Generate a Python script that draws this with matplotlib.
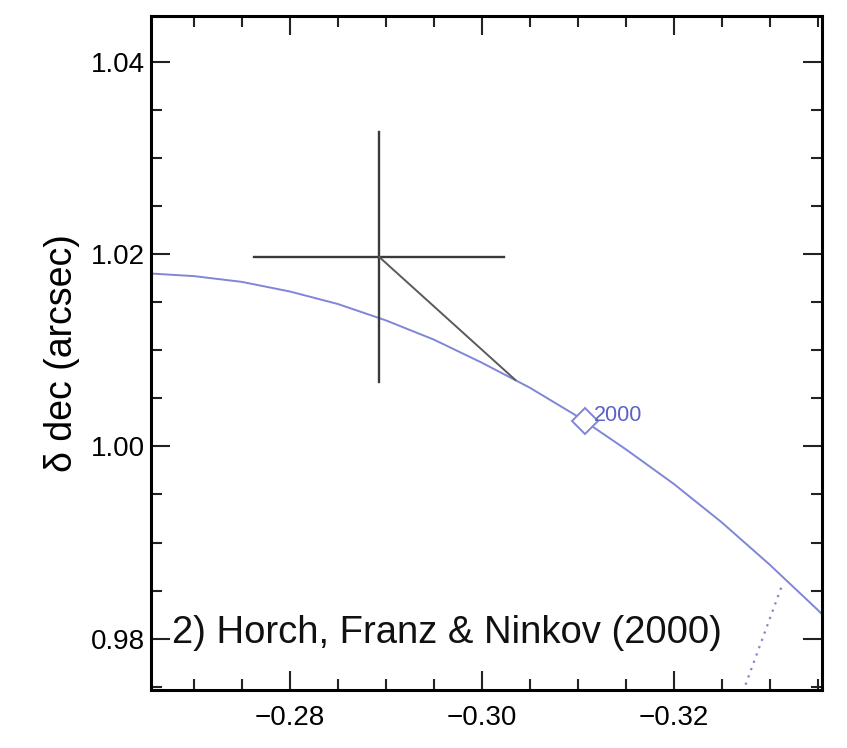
import matplotlib
matplotlib.use("Agg")
import matplotlib.pyplot as plt
from matplotlib.ticker import MultipleLocator, FuncFormatter

# orbit track (delta ra, delta dec)
orbit_x = [-0.262, -0.265, -0.270, -0.275, -0.280, -0.285, -0.290, -0.295,
           -0.300, -0.305, -0.310, -0.315, -0.320, -0.325, -0.330, -0.335, -0.340]
orbit_y = [1.0181, 1.0180, 1.0177, 1.0171, 1.0161, 1.0148, 1.0131, 1.0111,
           1.0087, 1.0061, 1.0031, 0.9997, 0.9961, 0.9921, 0.9877, 0.9830, 0.9780]

# measurement with error cross
obs_x, obs_y = -0.2893, 1.0197
obs_xerr, obs_yerr = 0.0130, 0.0130
# predicted position on orbit for the epoch
pred_x, pred_y = -0.3035, 1.0069

epoch_x, epoch_y = -0.3108, 1.0026
epoch_label = "2000"

dot_x = [-0.3312, -0.3252]
dot_y = [0.9853, 0.9690]

title = "2) Horch, Franz & Ninkov (2000)"

plt.rcParams["font.family"] = ["Liberation Sans", "DejaVu Sans"]

fig = plt.figure(figsize=(8.47, 7.48), dpi=100)
ax = fig.add_axes([0.178, 0.078, 0.793, 0.900])

blue = "#7f86d8"
ax.plot(orbit_x, orbit_y, color=blue, lw=1.4, zorder=2)
ax.plot(dot_x, dot_y, color=blue, lw=1.6, ls=(0, (1, 2.5)), zorder=2)

ax.plot([obs_x - obs_xerr, obs_x + obs_xerr], [obs_y, obs_y], color="#3a3a3a", lw=1.7)
ax.plot([obs_x, obs_x], [obs_y - obs_yerr, obs_y + obs_yerr], color="#3a3a3a", lw=1.7)
ax.plot([obs_x, pred_x], [obs_y, pred_y], color="#5a5a5a", lw=1.4)

ax.plot(epoch_x, epoch_y, marker="D", ms=13, mfc="white", mec=blue, mew=1.4, zorder=3)
ax.annotate(epoch_label, (epoch_x, epoch_y), xytext=(6, 4), textcoords="offset points",
            color="#5a62c8", fontsize=15.5, va="center")

ax.text(-0.2677, 0.9806, title, fontsize=27.5, va="center", ha="left", color="#111111")

ax.set_xlim(-0.2655, -0.3355)
ax.set_ylim(0.9747, 1.0447)

minus_fmt = FuncFormatter(lambda v, p: f"{v:.2f}".replace("-", "\u2212"))
ax.xaxis.set_major_locator(MultipleLocator(0.02))
ax.xaxis.set_minor_locator(MultipleLocator(0.005))
ax.yaxis.set_major_locator(MultipleLocator(0.02))
ax.yaxis.set_minor_locator(MultipleLocator(0.005))
ax.xaxis.set_major_formatter(minus_fmt)
ax.yaxis.set_major_formatter(minus_fmt)

ax.tick_params(which="both", direction="in", top=True, right=True, width=1.5,
               labelsize=20, color="#222222")
ax.tick_params(which="major", length=14)
ax.tick_params(which="minor", length=8)
ax.tick_params(axis="y", which="major", pad=4)
ax.tick_params(axis="x", which="major", pad=11)
for s in ax.spines.values():
    s.set_linewidth(2.2)

ax.set_ylabel("δ dec (arcsec)", fontsize=27, labelpad=8)

fig.savefig("out.png", dpi=100)
